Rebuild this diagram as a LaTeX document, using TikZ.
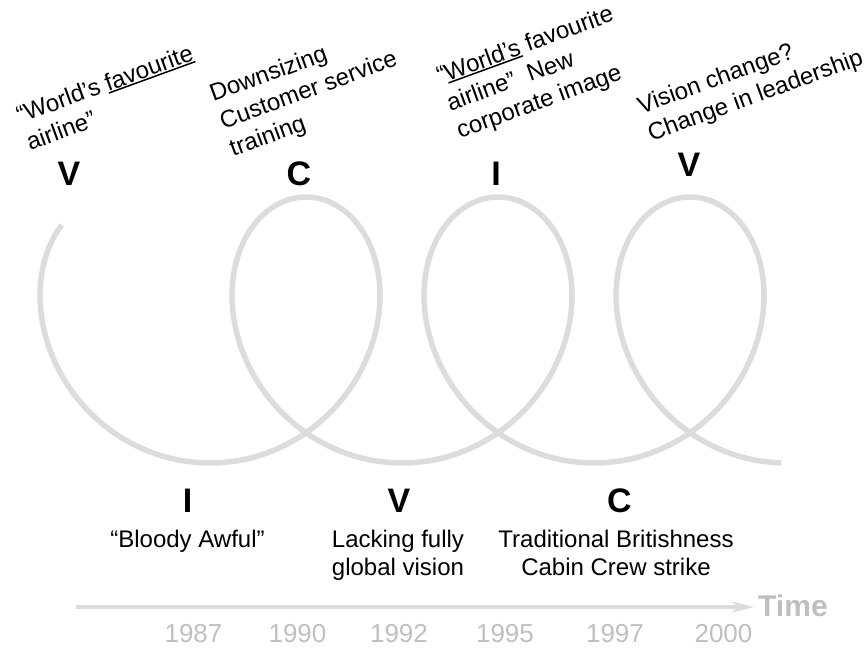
\documentclass[tikz,border=0pt]{standalone}
\usepackage{fontspec}
\setmainfont{Liberation Sans}
\usetikzlibrary{arrows.meta}

\definecolor{loopgrey}{HTML}{DCDCDC}
\definecolor{timegrey}{HTML}{BFBFBF}

% underline with a thicker rule than \underline gives
\newcommand{\ulpart}[1]{\setbox0\hbox{#1}\rlap{\rule[-2.6pt]{\wd0}{1.5pt}}#1}

\begin{document}
\begin{tikzpicture}[
		x=1pt, y=-1pt,
		note/.style={
			align=left,
			inner sep=0pt,
			rotate=20,
			anchor=west,
			font=\fontsize{24}{29}\selectfont
		},
		phase/.style={
			inner sep=0pt,
			font=\fontsize{34}{40}\selectfont\bfseries
		},
		event/.style={
			align=center,
			inner sep=0pt,
			anchor=north,
			font=\fontsize{24}{28}\selectfont
		},
		year/.style={
			anchor=base,
			inner sep=0pt,
			text=timegrey,
			font=\fontsize{26}{30}\selectfont
		},
		spiral/.style={
			draw=loopgrey,
			line width=5.5pt
		},
		>={Stealth[length=22pt,width=11pt,inset=6pt]}
		]
		\useasboundingbox (0,0) rectangle (868,648);

		% the cycle
		\draw[spiral] plot[domain=-2.48:18.82, samples=400, smooth, variable=\t]
			({210+30.56*\t+118*sin(\t r)}, {330+133*cos(\t r)});

		% upper phases
		\node[note] (visionA) at (22,129) {“World's \ulpart{favourite}\\airline”};
		\node[note] (changeA) at (221,123.4) {Downsizing\\Customer service\\training};
		\node[note] (imageA) at (448,105.4) {“\ulpart{World's} favourite\\airline”\ \ New\\corporate image};
		\node[note] (visionB) at (644,122) {Vision change?\\Change in leadership};

		\node[phase] (v1) at (69,173.5) {V};
		\node[phase] (c1) at (299,174) {C};
		\node[phase] (i1) at (496,174) {I};
		\node[phase] (v2) at (689,165) {V};

		% lower phases
		\node[phase] (i2) at (187.5,500.5) {I};
		\node[phase] (v3) at (399,500.5) {V};
		\node[phase] (c2) at (619.5,500.5) {C};

		\node[event] (awful) at (187.5,530) {“Bloody Awful”};
		\node[event] (global) at (398,530) {Lacking fully\\global vision};
		\node[event] (brit) at (616,530) {Traditional Britishness\\Cabin Crew strike};

		% time line
		\coordinate (t0) at (76,607);
		\node[anchor=base west, inner sep=4pt, text=timegrey,
			font=\fontsize{30}{36}\selectfont\bfseries] (time) at (754,616) {Time};
		\draw[->, draw=loopgrey, line width=3.5pt] (t0) -- (t0 -| time.west);
		\foreach \yr/\xx in {1987/193.5,1990/297.5,1992/399,1995/505,1997/615,2000/723.5}
			\node[year] (yr\yr) at (\xx,642) {\yr};
\end{tikzpicture}
\end{document}
